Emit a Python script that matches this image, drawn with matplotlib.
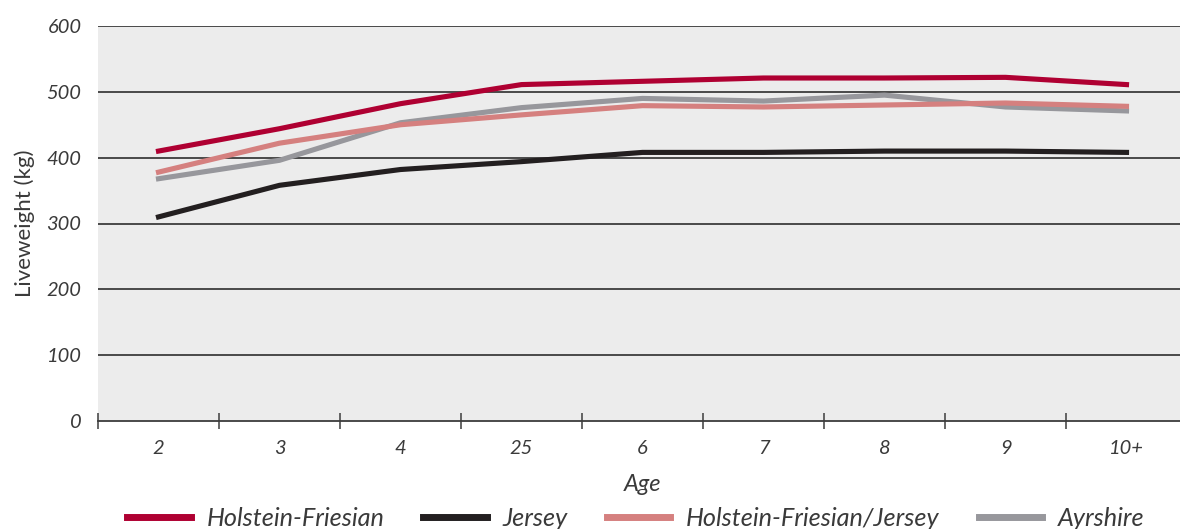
import numpy as np
import matplotlib.pyplot as plt
from matplotlib.ticker import FixedLocator

# ages (category labels as printed)
ages = ['2', '3', '4', '25', '6', '7', '8', '9', '10+']

# liveweight (kg)
holstein_friesian = [410, 444, 482, 511, 516, 521, 521, 522, 511]
jersey = [310, 358, 382, 394, 408, 408, 410, 410, 408]
hf_jersey = [378, 422, 450, 465, 479, 477, 480, 483, 478]
ayrshire = [368, 396, 453, 476, 490, 486, 495, 477, 471]

yticks = [0, 100, 200, 300, 400, 500, 600]

plt.rcParams['font.family'] = ['Lato', 'DejaVu Sans']
txt_col = '#3a3a3a'

fig = plt.figure(figsize=(11.8, 5.29), dpi=100)
ax = fig.add_axes([98/1180, 1 - 421/529, 1089/1180, 395/529])
ax.set_facecolor('#ececec')

x = np.arange(len(ages))
ax.plot(x, holstein_friesian, color='#af0032', lw=3.7, label='Holstein-Friesian', zorder=3)
ax.plot(x, jersey, color='#231f20', lw=3.7, label='Jersey', zorder=3)
ax.plot(x, ayrshire, color='#97979c', lw=3.7, label='Ayrshire', zorder=3)
ax.plot(x, hf_jersey, color='#d5807f', lw=3.7, label='Holstein-Friesian/Jersey', zorder=4)

ax.set_xlim(-0.5, len(ages) - 0.5)
ax.set_ylim(0, 600)

# horizontal gridlines
for v in yticks[1:]:
    ax.axhline(v, color='#3c3c3c', lw=1.3, zorder=2)

for s in ['top', 'right', 'left']:
    ax.spines[s].set_visible(False)
ax.spines['bottom'].set_color('#3c3c3c')
ax.spines['bottom'].set_linewidth(1.3)

ax.set_xticks(x)
ax.set_xticklabels(ages, fontsize=14.5, style='italic', color=txt_col)
ax.tick_params(axis='x', which='major', length=0, pad=14)
ax.xaxis.set_minor_locator(FixedLocator(np.arange(-0.5, len(ages), 1.0)))
ax.tick_params(axis='x', which='minor', direction='inout', length=12, width=1.1, color='#3c3c3c')

ax.set_yticks(yticks)
ax.set_yticklabels([str(v) for v in yticks], fontsize=14.5, style='italic', color=txt_col)
ax.tick_params(axis='y', length=0, pad=12)

ax.set_xlabel('Age', fontsize=17, style='italic', color=txt_col)
ax.xaxis.set_label_coords(0.5, -0.135)
ax.set_ylabel('Liveweight (kg)', fontsize=16, color=txt_col)
ax.yaxis.set_label_coords(-0.058, 0.5)

h, l = ax.get_legend_handles_labels()
order = [0, 1, 3, 2]
leg = fig.legend([h[i] for i in order], [l[i] for i in order], loc='center',
                 bbox_to_anchor=(0.539, 0.02), ncol=4, frameon=False,
                 prop={'size': 18.2, 'style': 'italic'}, handlelength=2.5,
                 handletextpad=0.63, columnspacing=1.55)
for t in leg.get_texts():
    t.set_color(txt_col)
for ln in leg.get_lines():
    ln.set_linewidth(5)

fig.savefig('out.png', dpi=100)
